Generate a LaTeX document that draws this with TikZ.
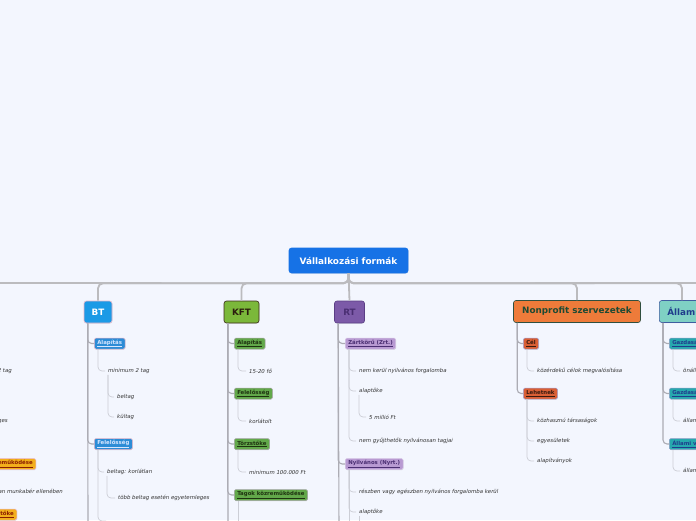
\documentclass[tikz,border=0pt]{standalone}
\usepackage{fontspec}
\setmainfont{DejaVu Sans}
\usepackage{tikz}
\usetikzlibrary{shadows, calc}
\definecolor{pageBack}{RGB}{243,246,254}
\definecolor{rootBlue}{RGB}{22,114,230}
\definecolor{btFill}{RGB}{27,154,230}
\definecolor{btEdge}{RGB}{233,182,201}
\definecolor{btTopic}{RGB}{44,140,214}
\definecolor{btTopicText}{RGB}{214,230,255}
\definecolor{kftFill}{RGB}{123,184,58}
\definecolor{kftEdge}{RGB}{59,42,26}
\definecolor{kftText}{RGB}{43,29,14}
\definecolor{kftTopic}{RGB}{98,168,74}
\definecolor{kftTopicText}{RGB}{30,51,16}
\definecolor{rtFill}{RGB}{124,90,168}
\definecolor{rtEdge}{RGB}{90,62,133}
\definecolor{rtText}{RGB}{74,46,114}
\definecolor{rtTopic}{RGB}{184,154,210}
\definecolor{npFill}{RGB}{238,123,58}
\definecolor{npEdge}{RGB}{47,79,63}
\definecolor{npText}{RGB}{30,74,51}
\definecolor{npTopic}{RGB}{217,95,53}
\definecolor{npTopicText}{RGB}{58,26,16}
\definecolor{alFill}{RGB}{127,208,196}
\definecolor{alEdge}{RGB}{63,94,160}
\definecolor{alText}{RGB}{31,60,140}
\definecolor{alTopic}{RGB}{39,168,174}
\definecolor{kktTopic}{RGB}{243,175,28}
\definecolor{kktTopicText}{RGB}{139,30,0}
\definecolor{noteText}{RGB}{51,51,51}
\definecolor{barGray}{RGB}{187,187,190}
\definecolor{trunkGray}{RGB}{172,172,180}
\definecolor{twigGray}{RGB}{204,206,214}
\tikzset{
  mapNode/.style={
    rounded corners=2.5pt,
    line width=0.6pt,
    align=center,
    inner sep=0pt,
    drop shadow={shadow xshift=0.4pt, shadow yshift=-0.6pt, opacity=0.18}
  },
  rootNode/.style={mapNode, fill=rootBlue, draw=rootBlue, text=white,
    minimum width=119pt, minimum height=25pt, font=\fontsize{8.9}{10}\selectfont\bfseries},
  formNode/.style={mapNode, draw, minimum height=22pt, inner xsep=6pt,
    font=\fontsize{8.8}{10}\selectfont\bfseries},
  topicNode/.style={mapNode, rounded corners=1.5pt, draw, line width=0.5pt,
    drop shadow={shadow xshift=0.3pt, shadow yshift=-0.5pt, opacity=0.1},
    minimum height=11pt, inner xsep=3pt, anchor=west,
    font=\fontsize{5.4}{6}\selectfont\bfseries},
  btTopicNode/.style={topicNode, fill=btTopic, draw=btEdge, text=btTopicText},
  kftTopicNode/.style={topicNode, fill=kftTopic, draw=gray!70, text=kftTopicText},
  rtTopicNode/.style={topicNode, fill=rtTopic, draw=rtTopic!60, text=rtText},
  npTopicNode/.style={topicNode, fill=npTopic, draw=gray!60!blue!50, text=npTopicText},
  alTopicNode/.style={topicNode, fill=alTopic, draw=alEdge!60, text=alText},
  kktTopicNode/.style={topicNode, fill=kktTopic, draw=btEdge, text=kktTopicText},
  noteNode/.style={anchor=west, inner xsep=3pt, inner ysep=1pt,
    font=\fontsize{5.4}{6}\selectfont\itshape, text=noteText},
  mainBar/.style={draw=barGray, line width=1.8pt, rounded corners=5pt},
  trunkLine/.style={draw=trunkGray, line width=1.1pt, rounded corners=4pt},
  twigLine/.style={draw=twigGray, line width=0.7pt, rounded corners=4pt}
}

\begin{document}
\begin{tikzpicture}[x=1pt, y=-1pt]
  \useasboundingbox (0,0) rectangle (696,520);
  \clip (0,0) rectangle (696,520);
  \fill[pageBack] (0,0) rectangle (696,520);

  \node[rootNode] (root) at (348.5,260.5) {Vállalkozási formák};

  \node[formNode, fill=btFill, draw=btEdge, text=white, minimum width=28pt] (bt) at (98,312) {BT};
  \node[formNode, fill=kftFill, draw=kftEdge, text=kftText, minimum width=35pt] (kft) at (241.5,312) {KFT};
  \node[formNode, fill=rtFill, draw=rtEdge, text=rtText, minimum width=30pt] (rt) at (349.5,312) {RT};
  \node[formNode, fill=npFill, draw=npEdge, text=npText, minimum width=127pt] (np) at (577,311.5) {Nonprofit szervezetek};
  \node[formNode, fill=alFill, draw=alEdge, text=alText, anchor=west, inner xsep=8pt] (allam) at (659,311.5) {Állami vállalatok};

  % cut-off branch on the left
  \coordinate (leftEnd) at (-10,283);
  \coordinate (rightEnd) at (706,283);
  \node[noteNode, anchor=east] (kkt1) at (15,371) {minimum 2 tag};
  \node[noteNode, anchor=east] (kkt2) at (11,421) {egyetemleges};
  \node[kktTopicNode, anchor=east] (kktK) at (36,464) {\underline{Tagok közreműködése}};
  \node[noteNode, anchor=east] (kkt3) at (66,492) {munkaviszonyban munkabér ellenében};
  \node[kktTopicNode, anchor=east] (kktT) at (17,514.5) {\underline{Törzstőke}};

  % BT
  \node[btTopicNode] (btA) at (94,343.5) {\underline{Alapítás}};
  \node[noteNode] (btA1) at (105,371) {minimum 2 tag};
  \node[noteNode] (btA1a) at (114,397) {beltag};
  \node[noteNode] (btA1b) at (114,417) {kültag};
  \node[btTopicNode] (btF) at (94,444) {\underline{Felelősség}};
  \node[noteNode] (btF1) at (104,472) {beltag: korlátlan};
  \node[noteNode] (btF1a) at (115,498) {több beltag esetén egyetemleges};
  \coordinate (btF2) at (106,521);
  \coordinate (btMore) at (88,530);

  % KFT
  \node[kftTopicNode] (kftA) at (234,343.5) {\underline{Alapítás}};
  \node[noteNode] (kftA1) at (246,371) {15-20 fő};
  \node[kftTopicNode] (kftF) at (234,393.5) {\underline{Felelősség}};
  \node[noteNode] (kftF1) at (246,421) {korlátolt};
  \node[kftTopicNode] (kftT) at (234,444) {\underline{Törzstőke}};
  \node[noteNode] (kftT1) at (246,472) {minimum 100.000 Ft};
  \node[kftTopicNode] (kftK) at (234,495) {\underline{Tagok közreműködése}};
  \coordinate (kftKMore) at (238,530);
  \coordinate (kftMore) at (228,530);

  % RT
  \node[rtTopicNode] (rtZ) at (345,343.5) {\underline{Zártkörű (Zrt.)}};
  \node[noteNode] (rtZ1) at (356,371) {nem kerül nyilvános forgalomba};
  \node[noteNode] (rtZ2) at (356,391) {alaptőke};
  \node[noteNode] (rtZ2a) at (366,417) {5 millió Ft};
  \node[noteNode] (rtZ3) at (356,441) {nem gyűjthetők nyilvánosan tagjai};
  \node[rtTopicNode] (rtN) at (345,464) {\underline{Nyilvános (Nyrt.)}};
  \node[noteNode] (rtN1) at (356,492) {részben vagy egészben nyilvános forgalomba kerül};
  \node[noteNode] (rtN2) at (356,512) {alaptőke};
  \coordinate (rtN2More) at (359,530);
  \coordinate (rtNMore) at (349,530);
  \coordinate (rtMore) at (339,530);

  % Nonprofit
  \node[npTopicNode] (npC) at (523,343.5) {\underline{Cél}};
  \node[noteNode] (npC1) at (534,371) {közérdekű célok megvalósítása};
  \node[npTopicNode] (npL) at (523,393.5) {\underline{Lehetnek}};
  \node[noteNode] (npL1) at (534,421) {közhasznú társaságok};
  \node[noteNode] (npL2) at (534,441) {egyesületek};
  \node[noteNode] (npL3) at (534,461) {alapítványok};

  % Allami
  \node[alTopicNode] (alG1) at (669,343.5) {\underline{Gazdasági társaság}};
  \node[noteNode] (al1) at (680,371) {önálló jogi személy};
  \node[alTopicNode] (alG2) at (669,393.5) {\underline{Gazdasági társulás}};
  \node[noteNode] (al2) at (680,421) {állami tulajdon};
  \node[alTopicNode] (alA) at (669,444) {\underline{Állami vállalat}};
  \node[noteNode] (al3) at (680,471) {állami irányítás};

  \draw[mainBar] (root.south) -- ++(0,10) -- (leftEnd);
  \draw[mainBar] (root.south) -- ++(0,10) -- (rightEnd);
  \draw[mainBar] (root.south) -- ++(0,10) -| (bt.north);
  \draw[mainBar] (root.south) -- ++(0,10) -| (kft.north);
  \draw[mainBar] (root.south) -- (rt.north);
  \draw[mainBar] (root.south) -- ++(0,10) -| (np.north);
  \draw[mainBar] (root.south) -- ++(0,10) -| ($(allam.north west)+(23,0)$);

  \draw[trunkLine] (bt.south west) ++(4,0) |- (btA.west);
  \draw[trunkLine] (bt.south west) ++(4,0) |- (btF.west);
  \draw[trunkLine] (bt.south west) ++(4,0) -- (btMore);
  \draw[twigLine] (btA.south west) ++(4,0) |- (btA1.west);
  \draw[twigLine] (btA1.south west) ++(3,0) |- (btA1a.west);
  \draw[twigLine] (btA1.south west) ++(3,0) |- (btA1b.west);
  \draw[twigLine] (btF.south west) ++(4,0) |- (btF1.west);
  \draw[twigLine] (btF1.south west) ++(3,0) |- (btF1a.west);
  \draw[twigLine] (btF.south west) ++(4,0) |- (btF2);

  \draw[trunkLine] (kft.south west) ++(4,0) |- (kftA.west);
  \draw[trunkLine] (kft.south west) ++(4,0) |- (kftF.west);
  \draw[trunkLine] (kft.south west) ++(4,0) |- (kftT.west);
  \draw[trunkLine] (kft.south west) ++(4,0) |- (kftK.west);
  \draw[trunkLine] (kft.south west) ++(4,0) -- (kftMore);
  \draw[twigLine] (kftA.south west) ++(4,0) |- (kftA1.west);
  \draw[twigLine] (kftF.south west) ++(4,0) |- (kftF1.west);
  \draw[twigLine] (kftT.south west) ++(4,0) |- (kftT1.west);
  \draw[twigLine] (kftK.south west) ++(4,0) -- (kftKMore);

  \draw[trunkLine] (rt.south west) ++(4,0) |- (rtZ.west);
  \draw[trunkLine] (rt.south west) ++(4,0) |- (rtN.west);
  \draw[trunkLine] (rt.south west) ++(4,0) -- (rtMore);
  \draw[twigLine] (rtZ.south west) ++(4,0) |- (rtZ1.west);
  \draw[twigLine] (rtZ.south west) ++(4,0) |- (rtZ2.west);
  \draw[twigLine] (rtZ.south west) ++(4,0) |- (rtZ3.west);
  \draw[twigLine] (rtZ2.south west) ++(3,0) |- (rtZ2a.west);
  \draw[twigLine] (rtN.south west) ++(4,0) |- (rtN1.west);
  \draw[twigLine] (rtN.south west) ++(4,0) |- (rtN2.west);
  \draw[twigLine] (rtN.south west) ++(4,0) -- (rtNMore);
  \draw[twigLine] (rtN2.south west) ++(3,0) -- (rtN2More);

  \draw[trunkLine] (np.south west) ++(4,0) |- (npC.west);
  \draw[trunkLine] (np.south west) ++(4,0) |- (npL.west);
  \draw[twigLine] (npC.south west) ++(4,0) |- (npC1.west);
  \draw[twigLine] (npL.south west) ++(4,0) |- (npL1.west);
  \draw[twigLine] (npL.south west) ++(4,0) |- (npL2.west);
  \draw[twigLine] (npL.south west) ++(4,0) |- (npL3.west);

  \draw[trunkLine] (allam.south west) ++(4,0) |- (alG1.west);
  \draw[trunkLine] (allam.south west) ++(4,0) |- (alG2.west);
  \draw[trunkLine] (allam.south west) ++(4,0) |- (alA.west);
  \draw[twigLine] (alG1.south west) ++(4,0) |- (al1.west);
  \draw[twigLine] (alG2.south west) ++(4,0) |- (al2.west);
  \draw[twigLine] (alA.south west) ++(4,0) |- (al3.west);
\end{tikzpicture}
\end{document}
